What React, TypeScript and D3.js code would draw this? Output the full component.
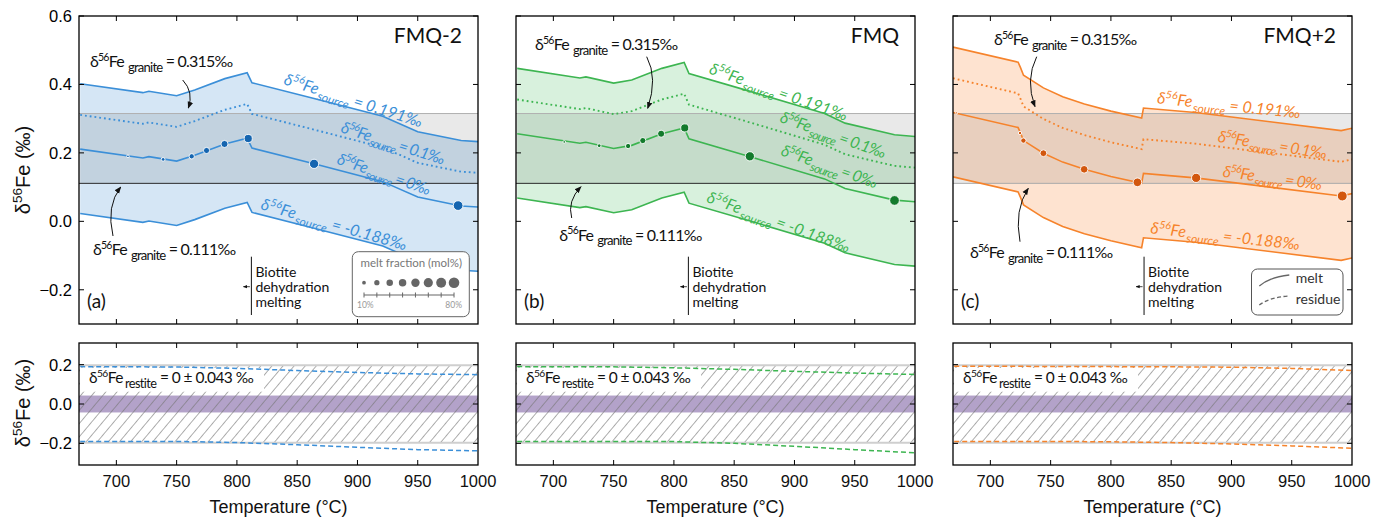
import React, { useRef, useLayoutEffect } from "react";
import * as d3 from "d3";

// ---- data ----
// melt curves, one temperature grid per panel (°C), δ56Fe of melt (‰) for each source composition
const tempFMQm2 = [670, 722, 727, 750, 765, 790, 808.5, 812.5, 864, 921, 950, 986, 1000];
const srcHighFMQm2 = [0.402, 0.376, 0.38, 0.367, 0.384, 0.417, 0.434, 0.405, 0.359, 0.307, 0.262, 0.236, 0.233];
const srcMidFMQm2 = [0.311, 0.285, 0.289, 0.276, 0.293, 0.326, 0.343, 0.314, 0.268, 0.216, 0.171, 0.145, 0.142];
const srcZeroFMQm2 = [0.211, 0.185, 0.189, 0.176, 0.193, 0.226, 0.243, 0.214, 0.168, 0.116, 0.071, 0.045, 0.042];
const srcLowFMQm2 = [0.023, -0.003, 0.001, -0.012, 0.005, 0.038, 0.055, 0.026, -0.02, -0.072, -0.117, -0.143, -0.146];

const tempFMQ = [670, 722, 727, 750, 765, 790, 808.5, 812.5, 864, 925, 942, 983, 1000];
const srcHighFMQ = [0.447, 0.419, 0.422, 0.404, 0.413, 0.447, 0.464, 0.432, 0.379, 0.315, 0.287, 0.253, 0.248];
const srcMidFMQ = [0.356, 0.328, 0.331, 0.313, 0.322, 0.356, 0.373, 0.341, 0.288, 0.224, 0.196, 0.162, 0.157];
const srcZeroFMQ = [0.256, 0.228, 0.231, 0.213, 0.222, 0.256, 0.273, 0.241, 0.188, 0.124, 0.096, 0.062, 0.057];
const srcLowFMQ = [0.068, 0.04, 0.043, 0.025, 0.034, 0.068, 0.085, 0.053, 0.0, -0.064, -0.092, -0.126, -0.131];

const tempFMQp2 = [669, 723, 725, 727.5, 744, 760, 778, 800, 825.5, 827, 870, 991, 1000];
const srcHighFMQp2 = [0.509, 0.465, 0.449, 0.427, 0.39, 0.364, 0.343, 0.322, 0.302, 0.331, 0.318, 0.265, 0.272];
const srcMidFMQp2 = [0.418, 0.374, 0.358, 0.336, 0.299, 0.273, 0.252, 0.231, 0.211, 0.24, 0.227, 0.174, 0.181];
const srcZeroFMQp2 = [0.318, 0.274, 0.258, 0.236, 0.199, 0.173, 0.152, 0.131, 0.111, 0.14, 0.127, 0.074, 0.081];
const srcLowFMQp2 = [0.13, 0.086, 0.07, 0.048, 0.011, -0.015, -0.036, -0.057, -0.077, -0.048, -0.061, -0.114, -0.107];

// melt-fraction markers on the 0‰ curve
const dotTempFMQm2 = [709.6, 738.8, 762.5, 774.8, 789.7, 809.4, 864, 983.5];
const dotFeFMQm2 = [0.19, 0.181, 0.19, 0.207, 0.226, 0.242, 0.168, 0.046];
const dotMeltFMQm2 = [5, 10, 20, 27, 36, 47, 61, 67];
const dotTempFMQ = [709, 738, 762, 774.2, 789.4, 809, 863, 983];
const dotFeFMQ = [0.232, 0.221, 0.22, 0.236, 0.256, 0.273, 0.19, 0.061];
const dotMeltFMQ = [5, 10, 20, 27, 36, 47, 61, 67];
const dotTempFMQp2 = [672, 724.6, 727.4, 744, 777.8, 822, 870.7, 991.9];
const dotFeFMQp2 = [0.317, 0.258, 0.236, 0.199, 0.152, 0.114, 0.127, 0.074];
const dotMeltFMQp2 = [3, 8, 20, 33, 42, 53, 61, 70];

// residue curves (lower panels)
const resTemp = [670, 750, 800, 850, 900, 950, 1000];
const resHighFMQm2 = [0.19, 0.188, 0.181, 0.17, 0.16, 0.153, 0.149];
const resLowFMQm2 = [-0.19, -0.19, -0.196, -0.207, -0.22, -0.232, -0.238];
const resHighFMQ = [0.19, 0.189, 0.184, 0.176, 0.166, 0.157, 0.15];
const resLowFMQ = [-0.19, -0.19, -0.191, -0.2, -0.215, -0.232, -0.248];
const resHighFMQp2 = [0.192, 0.191, 0.19, 0.189, 0.187, 0.181, 0.17];
const resLowFMQp2 = [-0.19, -0.19, -0.192, -0.196, -0.203, -0.213, -0.225];

const graniteLow = 0.111;
const graniteHigh = 0.315;
const restiteErr = 0.043;
const restiteRange = 0.197;
const biotiteTemp = [812, 812, 827.5];
const legendMelt = [10, 20, 30, 40, 50, 60, 70, 80];
const sourceLabels = ["0.191‰", "0.1‰", "0‰", "-0.188‰"];

const xTicks = [700, 750, 800, 850, 900, 950, 1000];
const yTicksTop = [0.6, 0.4, 0.2, 0.0, -0.2];
const yTicksBot = [0.2, 0.0, -0.2];

// ---- layout ----
const PW = 399;
const LEFTS = [79, 516, 953];
const TOP0 = 16, TOP1 = 324, BOT0 = 343, BOT1 = 465;
const FA = "Lato, 'Open Sans', sans-serif";
const FT = "'Liberation Sans', Arial, Helvetica, sans-serif";

const x = d3.scaleLinear().domain([669, 1000]).range([0, PW]);
const yT = d3.scaleLinear().domain([-0.3, 0.6]).range([TOP1, TOP0]);
const yB = d3.scaleLinear().domain([-0.31, 0.31]).range([BOT1, BOT0]);
const r = d3.scaleSqrt().domain([0, 80]).range([0, 5.3]);

const panels = [
  {
    title: "FMQ-2", tag: "(a)", temps: tempFMQm2,
    curves: [srcHighFMQm2, srcMidFMQm2, srcZeroFMQm2, srcLowFMQm2],
    dots: [dotTempFMQm2, dotFeFMQm2, dotMeltFMQm2],
    res: [resHighFMQm2, resLowFMQm2],
    line: "#3b8fd8", fill: "#d5e6f5", dot: "#1565b0", lowLine: "#2a2a2a",
    g315: [11, 50.7], a315: "M103.7,64 Q115,76 109.3,92",
    g111: [14, 239], a111: "M34,220 Q27,190 41.7,171",
    labels: [[204, 68, 17.5, 144], [261, 116, 17.7, 108], [257, 147.5, 19, 98], [181, 193, 16, 151]],
  },
  {
    title: "FMQ", tag: "(b)", temps: tempFMQ,
    curves: [srcHighFMQ, srcMidFMQ, srcZeroFMQ, srcLowFMQ],
    dots: [dotTempFMQ, dotFeFMQ, dotMeltFMQ],
    res: [resHighFMQ, resLowFMQ],
    line: "#3db551", fill: "#d8f1dd", dot: "#137a2c", lowLine: "#2a2a2a",
    g315: [19, 34], a315: "M130.7,40.7 Q142,62 131.7,92.3",
    g111: [43.3, 224.5], a111: "M55.7,202 Q51,185 65,170.7",
    labels: [[192.3, 57.3, 19.2, 145], [263, 105.7, 19.3, 111], [264, 139, 19.3, 101], [189.7, 185.7, 19.8, 151]],
  },
  {
    title: "FMQ+2", tag: "(c)", temps: tempFMQp2,
    curves: [srcHighFMQp2, srcMidFMQp2, srcZeroFMQp2, srcLowFMQp2],
    dots: [dotTempFMQp2, dotFeFMQp2, dotMeltFMQp2],
    res: [resHighFMQp2, resLowFMQp2],
    line: "#f6832b", fill: "#fee3d0", dot: "#d2570e", lowLine: "#aaaaaa",
    g315: [41, 29], a315: "M83.7,40.7 Q72,64 82,90.7",
    g111: [17, 242.3], a111: "M67,225.7 Q61,194 75.3,172.3",
    labels: [[203.7, 87.3, 6, 144], [264.3, 125.7, 9, 110], [269.3, 160.7, 7.6, 100], [197, 217.3, 6.4, 150]],
  },
];

const pairs = (ts: number[], vs: number[]) => ts.map((t, j) => [t, vs[j]] as [number, number]);

const Delta = ({ size, sub, tail, gap = 2, subK = 0.78 }: { size: number; sub: string; tail: string; gap?: number; subK?: number }) => (
  <>
    <tspan>δ</tspan>
    <tspan fontSize={size * 0.66} dy={-size * 0.38}>56</tspan>
    <tspan fontSize={size} dy={size * 0.38}>Fe</tspan>
    <tspan fontSize={size * subK} dx={gap} dy={size * 0.3}>{sub}</tspan>
    <tspan fontSize={size} dy={-size * 0.3}>{tail}</tspan>
  </>
);

function Frame({ y0, y1, yScale, yTicks, showY }: any) {
  const fmt = d3.format(".1f");
  return (
    <g>
      <rect x={0} y={y0} width={PW} height={y1 - y0} fill="none" stroke="#000" strokeWidth={1.3} />
      {xTicks.filter((t) => t < 1000).map((t) => (
        <g key={t}>
          <line x1={x(t)} x2={x(t)} y1={y0} y2={y0 + 5} stroke="#000" />
          <line x1={x(t)} x2={x(t)} y1={y1} y2={y1 - 5} stroke="#000" />
        </g>
      ))}
      {yTicks.map((v: number) => (
        <g key={v}>
          <line x1={0} x2={5} y1={yScale(v)} y2={yScale(v)} stroke="#000" />
          <line x1={PW} x2={PW - 5} y1={yScale(v)} y2={yScale(v)} stroke="#000" />
          {showY && (
            <text x={-7} y={yScale(v)} dy="0.36em" textAnchor="end" fontFamily={FT} fontSize={16.5}>
              {fmt(v)}
            </text>
          )}
        </g>
      ))}
    </g>
  );
}

function TopPanel({ p, i }: any) {
  const left = LEFTS[i];
  const idx = p.temps.map((_: number, j: number) => j);
  const area = d3.area<number>()
    .x((j) => x(p.temps[j]))
    .y0((j) => yT(p.curves[3][j]))
    .y1((j) => yT(p.curves[0][j]));
  const line = d3.line<[number, number]>().x((d) => x(d[0])).y((d) => yT(d[1]));
  const bx = x(biotiteTemp[i]);
  return (
    <g transform={`translate(${left},0)`}>
      <clipPath id={`ct${i}`}>
        <rect x={0} y={TOP0} width={PW} height={TOP1 - TOP0} />
      </clipPath>
      <g clipPath={`url(#ct${i})`}>
        <path d={area(idx) || ""} fill={p.fill} />
        <rect x={0} width={PW} y={yT(graniteHigh)} height={yT(graniteLow) - yT(graniteHigh)} fill="rgba(0,0,0,0.085)" />
        <line x1={0} x2={PW} y1={yT(graniteHigh)} y2={yT(graniteHigh)} stroke="#b0b0b0" strokeWidth={1} />
        <line x1={0} x2={PW} y1={yT(graniteLow)} y2={yT(graniteLow)} stroke={p.lowLine} strokeWidth={1} />
        {p.curves.map((c: number[], k: number) => (
          <path key={k} d={line(pairs(p.temps, c)) || ""} fill="none" stroke={p.line}
            strokeWidth={k === 1 ? 1.9 : 1.6} strokeDasharray={k === 1 ? "1.8 3" : undefined} />
        ))}
        {p.dots[0].map((t: number, j: number) => (
          <circle key={j} cx={x(t)} cy={yT(p.dots[1][j])} r={r(p.dots[2][j])} fill={p.dot} stroke="#fff" strokeWidth={0.9} />
        ))}
      </g>
      <g transform={`translate(0,${TOP0})`}>
        {p.labels.map((l: number[], k: number) => (
          <text key={k} transform={`translate(${l[0]},${l[1]}) rotate(${l[2]})`} fill={p.line}
            fontFamily={FA} fontSize={16} fontStyle="italic" data-fit={l[3]}>
            <Delta size={16} sub="source" tail={` = ${sourceLabels[k]}`} gap={1} subK={0.75} />
          </text>
        ))}
        <text x={p.g315[0]} y={p.g315[1]} fontFamily={FA} fontSize={16} fill="#111" data-fit={143}>
          <Delta size={16} sub="granite" tail=" = 0.315‰" gap={4} subK={0.82} />
        </text>
        <path d={p.a315} fill="none" stroke="#111" strokeWidth={1} markerEnd="url(#arr)" />
        <text x={p.g111[0]} y={p.g111[1]} fontFamily={FA} fontSize={16} fill="#111" data-fit={143}>
          <Delta size={16} sub="granite" tail=" = 0.111‰" gap={4} subK={0.82} />
        </text>
        <path d={p.a111} fill="none" stroke="#111" strokeWidth={1} markerEnd="url(#arr)" />
        <text x={PW - 16} y={27} textAnchor="end" fontFamily={FA} fontSize={21} fill="#111">{p.title}</text>
        <text x={8} y={292} fontFamily={FA} fontSize={19} fill="#111">{p.tag}</text>
        <line x1={bx} x2={bx} y1={240.7} y2={299} stroke="#111" strokeWidth={1} />
        <line x1={bx - 1.5} x2={bx - 8} y1={270.7} y2={270.7} stroke="#111" strokeWidth={0.8} markerEnd="url(#arrS)" />
        {["Biotite", "dehydration", "melting"].map((s, k) => (
          <text key={s} x={bx + 4} y={260.7 + k * 15} fontFamily={FA} fontSize={14} fill="#111">{s}</text>
        ))}
        {i === 0 && (
          <g>
            <rect x={273.3} y={235.7} width={117} height={65} rx={6} fill="#fff" stroke="#666" strokeWidth={1} />
            <text x={281.5} y={250.5} fontFamily={FA} fontSize={11.5} fill="#777">melt fraction (mol%)</text>
            {legendMelt.map((f, k) => (
              <g key={f}>
                <circle cx={285 + k * 12.86} cy={266.7} r={r(f)} fill="#666" />
                <line x1={285 + k * 12.86} x2={285 + k * 12.86} y1={276.5} y2={281.5} stroke="#666" strokeWidth={1} />
              </g>
            ))}
            <line x1={285} x2={285 + 7 * 12.86} y1={279} y2={279} stroke="#666" strokeWidth={1.2} />
            <text x={278} y={292.3} fontFamily={FA} fontSize={8.5} fill="#999">10%</text>
            <text x={383} y={292.3} textAnchor="end" fontFamily={FA} fontSize={8.5} fill="#999">80%</text>
          </g>
        )}
        {i === 2 && (
          <g>
            <rect x={298.5} y={253} width={91.5} height={46} rx={6} fill="#fff" stroke="#555" strokeWidth={1} />
            <path d="M306.3,270 Q317,261 336.3,259" fill="none" stroke="#666" strokeWidth={1.3} />
            <path d="M306.3,289 Q317,281 336.3,280" fill="none" stroke="#666" strokeWidth={1.3} strokeDasharray="4 2.5" />
            <text x={342.7} y={267.3} fontFamily={FA} fontSize={14} fill="#333">melt</text>
            <text x={342.7} y={288} fontFamily={FA} fontSize={14} fill="#333">residue</text>
          </g>
        )}
      </g>
      <Frame y0={TOP0} y1={TOP1} yScale={yT} yTicks={yTicksTop} showY={i === 0} />
    </g>
  );
}

function BottomPanel({ p, i }: any) {
  const left = LEFTS[i];
  const line = d3.line<[number, number]>().x((d) => x(d[0])).y((d) => yB(d[1]));
  return (
    <g transform={`translate(${left},0)`}>
      <clipPath id={`cb${i}`}>
        <rect x={0} y={BOT0} width={PW} height={BOT1 - BOT0} />
      </clipPath>
      <g clipPath={`url(#cb${i})`}>
        <rect x={0} width={PW} y={yB(restiteErr)} height={yB(-restiteErr) - yB(restiteErr)} fill="#b3a2c9" />
        <rect x={0} width={PW} y={yB(restiteRange)} height={yB(-restiteRange) - yB(restiteRange)} fill="url(#hatch)" />
        <line x1={0} x2={PW} y1={yB(restiteRange)} y2={yB(restiteRange)} stroke="#cfcfcf" strokeWidth={2} />
        <line x1={0} x2={PW} y1={yB(-restiteRange)} y2={yB(-restiteRange)} stroke="#cfcfcf" strokeWidth={2} />
        <rect x={1} y={BOT0 + 25} width={184} height={23.7} fill="#fff" />
        {p.res.map((c: number[], k: number) => (
          <path key={k} d={line(pairs(resTemp, c)) || ""} fill="none" stroke={p.line} strokeWidth={1.5} strokeDasharray="5 3" />
        ))}
      </g>
      <text x={10} y={BOT0 + 40.3} fontFamily={FA} fontSize={15.5} fill="#111" data-fit={165}>
        <Delta size={15.5} sub="restite" tail={` = 0 ± ${restiteErr} ‰`} gap={2} subK={0.82} />
      </text>
      <Frame y0={BOT0} y1={BOT1} yScale={yB} yTicks={yTicksBot} showY={i === 0} />
      {xTicks.map((t) => (
        <text key={t} x={x(t)} y={487} textAnchor="middle" fontFamily={FT} fontSize={16.5} fill="#111">{t}</text>
      ))}
      <text x={PW / 2} y={513} textAnchor="middle" fontFamily={FT} fontSize={18} fill="#111">Temperature (°C)</text>
    </g>
  );
}

const YTitle = ({ cy }: { cy: number }) => (
  <text transform={`translate(30,${cy}) rotate(-90)`} textAnchor="middle" fontFamily={FT} fontSize={20} fill="#111">
    <tspan>δ</tspan>
    <tspan fontSize={13.5} dy={-8}>56</tspan>
    <tspan fontSize={20} dy={8}>Fe (‰)</tspan>
  </text>
);

export default function App() {
  const svgRef = useRef<SVGSVGElement>(null);

  // stretch the annotation texts to the lengths they have in the figure
  useLayoutEffect(() => {
    const svg = svgRef.current;
    if (!svg) return;
    svg.querySelectorAll<SVGTextElement>("text[data-fit]").forEach((el) => {
      const target = +(el.getAttribute("data-fit") || 0);
      el.setAttribute("letter-spacing", "0");
      const len = el.getBBox().width;
      const n = (el.textContent || "").length;
      if (n > 1 && len > 0) el.setAttribute("letter-spacing", String((target - len) / (n - 1)));
    });
  }, []);

  return (
    <svg ref={svgRef} width={1387} height={519} style={{ position: "absolute", left: 0, top: 0, background: "#fff" }}>
      <defs>
        <marker id="arr" viewBox="0 0 10 10" refX={9} refY={5} markerWidth={7} markerHeight={7}
          markerUnits="userSpaceOnUse" orient="auto">
          <path d="M0,1 L10,5 L0,9 z" fill="#111" />
        </marker>
        <marker id="arrS" viewBox="0 0 10 10" refX={9} refY={5} markerWidth={4} markerHeight={4}
          markerUnits="userSpaceOnUse" orient="auto">
          <path d="M0,1 L10,5 L0,9 z" fill="#111" />
        </marker>
        <pattern id="hatch" patternUnits="userSpaceOnUse" width={8.5} height={8.5} patternTransform="rotate(40)">
          <line x1={0} y1={0} x2={0} y2={8.5} stroke="#777" strokeWidth={1.2} />
        </pattern>
      </defs>
      <rect width={1387} height={519} fill="#fff" />
      {panels.map((p, i) => (
        <g key={p.title}>
          <TopPanel p={p} i={i} />
          <BottomPanel p={p} i={i} />
        </g>
      ))}
      <YTitle cy={170} />
      <YTitle cy={403} />
    </svg>
  );
}
